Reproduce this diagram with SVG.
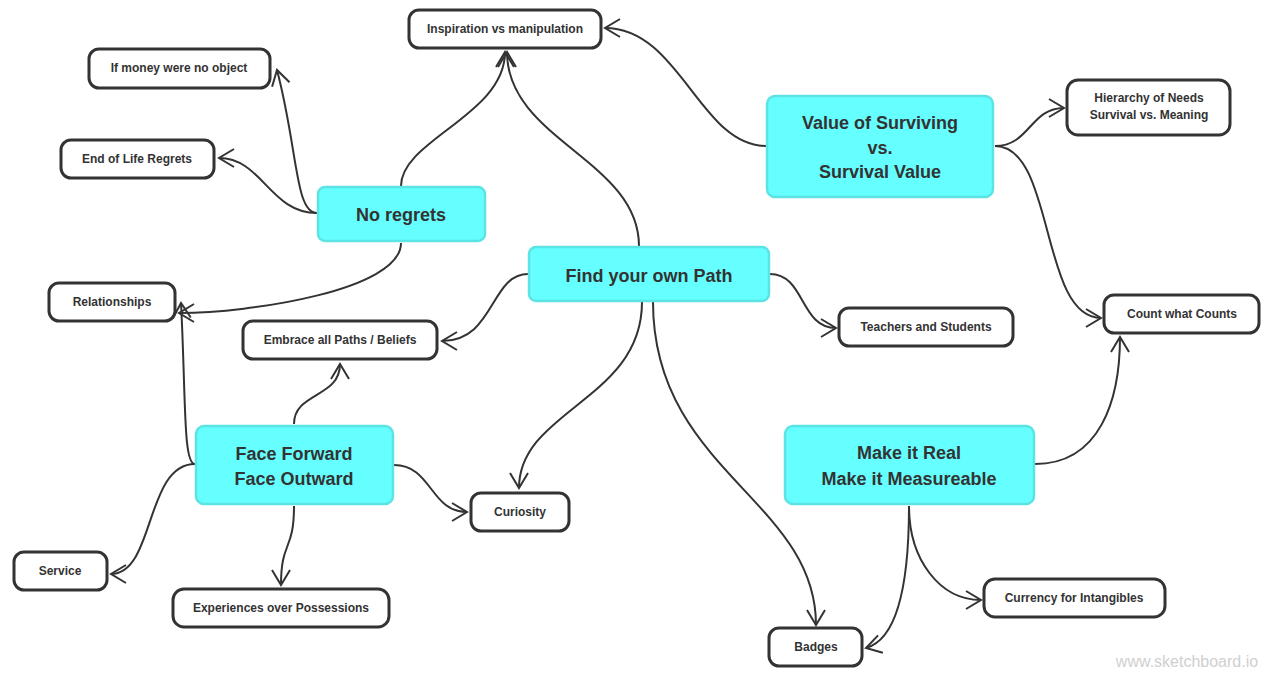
<svg xmlns="http://www.w3.org/2000/svg" width="1280" height="681" viewBox="0 0 1280 681">
<style>
.main rect{fill:#66FFFF;stroke:#5CE3E3;stroke-width:2.5}
.sub rect{fill:#fff;stroke:#333;stroke-width:3}
.main text{font-family:"Liberation Sans",Arial,sans-serif;font-weight:bold;font-size:18px;fill:#333;text-anchor:middle;dominant-baseline:central}
.sub text{font-family:"Liberation Sans",Arial,sans-serif;font-weight:bold;font-size:12px;fill:#333;text-anchor:middle;dominant-baseline:central}
#connectors path{fill:none;stroke:#333;stroke-width:2;marker-end:url(#arr)}
</style>
<defs>
<marker id="arr" markerUnits="userSpaceOnUse" markerWidth="36" markerHeight="36" refX="0" refY="0" viewBox="-18 -18 36 36" orient="auto" overflow="visible">
<path d="M-15,-9 L0,0 L-15,9" fill="none" stroke="#333" stroke-width="2"/>
</marker>
</defs>
<rect width="1280" height="681" fill="#fff"/>
<g id="connectors">
<path d="M401,186 C401,140 505,115 505,52"/>
<path d="M639,246 C639,160 507,140 507,52"/>
<path d="M766,146 C700,146 680,28 605,28"/>
<path d="M317,213 C295,213 298,150 277,70"/>
<path d="M317,213 C270,213 262,158 219,158"/>
<path d="M401,243 C401,290 250,313 179,313"/>
<path d="M195,464 C183,464 186,400 181,303"/>
<path d="M195,464 C145,464 155,574 111,574"/>
<path d="M294,424 C294,392 340,398 340,364"/>
<path d="M294,506 C294,552 281,540 281,585"/>
<path d="M394,465 C432,465 430,512 467,512"/>
<path d="M528,274 C490,274 495,341 442,341"/>
<path d="M642,302 C642,400 519,410 519,488"/>
<path d="M653,302 C653,470 816,500 816,625"/>
<path d="M770,274 C805,274 800,328 836,328"/>
<path d="M995,146 C1030,146 1030,108 1064,108"/>
<path d="M995,146 C1055,146 1040,318 1101,318"/>
<path d="M1035,464 C1100,464 1120,400 1120,337"/>
<path d="M909,506 C909,560 940,600 981,600"/>
<path d="M909,506 C909,590 895,640 866,648"/>
</g>
<g id="n-noregrets" class="main"><rect x="318" y="187" width="167" height="54" rx="7"/><text x="401" y="215">No regrets</text></g>
<g id="n-findpath" class="main"><rect x="529" y="247" width="240" height="54" rx="7"/><text x="649" y="276">Find your own Path</text></g>
<g id="n-value" class="main"><rect x="767" y="96" width="226" height="101" rx="8"/><text x="880" y="123">Value of Surviving</text><text x="880" y="148">vs.</text><text x="880" y="172">Survival Value</text></g>
<g id="n-face" class="main"><rect x="196" y="426" width="197" height="78" rx="8"/><text x="294" y="454">Face Forward</text><text x="294" y="479">Face Outward</text></g>
<g id="n-real" class="main"><rect x="785" y="426" width="249" height="78" rx="8"/><text x="909" y="453">Make it Real</text><text x="909" y="479">Make it Measureable</text></g>
<g id="n-inspiration" class="sub"><rect x="409" y="10" width="192" height="38" rx="10"/><text x="505" y="29">Inspiration vs manipulation</text></g>
<g id="n-money" class="sub"><rect x="89" y="49" width="181" height="39" rx="10"/><text x="179" y="68">If money were no object</text></g>
<g id="n-endoflife" class="sub"><rect x="61" y="140" width="153" height="38" rx="10"/><text x="137" y="159">End of Life Regrets</text></g>
<g id="n-relationships" class="sub"><rect x="49" y="283" width="126" height="38" rx="10"/><text x="112" y="302">Relationships</text></g>
<g id="n-embrace" class="sub"><rect x="243" y="321" width="194" height="38" rx="10"/><text x="340" y="340">Embrace all Paths / Beliefs</text></g>
<g id="n-teachers" class="sub"><rect x="839" y="308" width="174" height="38" rx="10"/><text x="926" y="327">Teachers and Students</text></g>
<g id="n-hierarchy" class="sub"><rect x="1067" y="80" width="163" height="55" rx="11"/><text x="1149" y="98">Hierarchy of Needs</text><text x="1149" y="115">Survival vs. Meaning</text></g>
<g id="n-count" class="sub"><rect x="1104" y="295" width="155" height="38" rx="10"/><text x="1182" y="314">Count what Counts</text></g>
<g id="n-curiosity" class="sub"><rect x="471" y="493" width="98" height="38" rx="10"/><text x="520" y="512">Curiosity</text></g>
<g id="n-service" class="sub"><rect x="14" y="552" width="93" height="38" rx="10"/><text x="60" y="571">Service</text></g>
<g id="n-experiences" class="sub"><rect x="173" y="589" width="216" height="38" rx="11"/><text x="281" y="608">Experiences over Possessions</text></g>
<g id="n-badges" class="sub"><rect x="769" y="628" width="93" height="38" rx="10"/><text x="816" y="647">Badges</text></g>
<g id="n-currency" class="sub"><rect x="984" y="579" width="181" height="38" rx="11"/><text x="1074" y="598">Currency for Intangibles</text></g>
<text x="1187" y="661" font-family="Liberation Sans,Arial,sans-serif" font-size="16" fill="#d0d0d0" text-anchor="middle" dominant-baseline="central">www.sketchboard.io</text>
</svg>
